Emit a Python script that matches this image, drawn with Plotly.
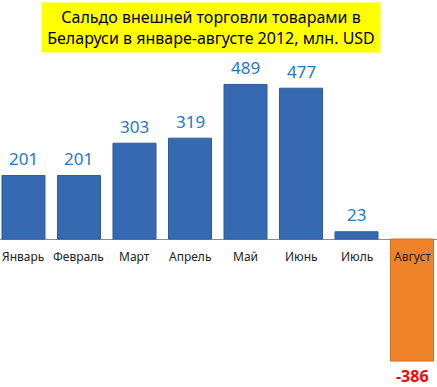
import plotly.graph_objects as go

months = ["Январь", "Февраль", "Март", "Апрель", "Май", "Июнь", "Июль", "Август"]
values = [201, 201, 303, 319, 489, 477, 23, -386]
title_text = "Сальдо внешней торговли товарами в<br>Беларуси в январе-августе 2012, млн. USD"

bar_colors = ["#3569B2" if v >= 0 else "#EE8228" for v in values]
line_colors = ["#2E5C9C" if v >= 0 else "#D36E1E" for v in values]

fig = go.Figure()
fig.add_trace(go.Bar(
    x=months, y=values,
    marker=dict(color=bar_colors, line=dict(color=line_colors, width=1)),
    hoverinfo="skip",
))

FONT = "Noto Sans"
# value labels
for m, v in zip(months, values):
    if v >= 0:
        fig.add_annotation(x=m, y=v, yshift=17, text=str(v), showarrow=False,
                           font=dict(family=FONT, size=17, color="#1F78C8"))
    else:
        fig.add_annotation(x=m, y=v, yshift=-15, text="<b>%d</b>" % v, showarrow=False,
                           font=dict(family=FONT, size=16, color="#FF0000"))
# category labels
for m in months:
    fig.add_annotation(x=m, y=0, yshift=-17, text=m, showarrow=False,
                       font=dict(family=FONT, size=12, color="#222222"))

fig.add_annotation(xref="paper", yref="paper", x=211/437, y=1 - 27.5/387,
                   xanchor="center", yanchor="middle",
                   text=title_text, showarrow=False, bgcolor="#FFFF00",
                   width=336, height=47, align="center", valign="middle",
                   font=dict(family=FONT, size=16, color="#000000"))

fig.update_layout(
    width=437, height=387,
    margin=dict(l=0, r=0, t=0, b=0),
    paper_bgcolor="white", plot_bgcolor="white",
    bargap=0.225,
    showlegend=False,
    xaxis=dict(range=[-0.423, 7.45], showticklabels=False, showgrid=False,
               zeroline=False, showline=False, ticks=""),
    yaxis=dict(range=[-468, 756], showticklabels=False, showgrid=False,
               zeroline=True, zerolinecolor="#8C8C8C", zerolinewidth=1,
               showline=False, ticks=""),
)

fig.write_html("out.html", config={"displayModeBar": False},
               post_script="document.body.style.margin='0';document.body.style.padding='0';document.body.style.overflow='hidden';")
